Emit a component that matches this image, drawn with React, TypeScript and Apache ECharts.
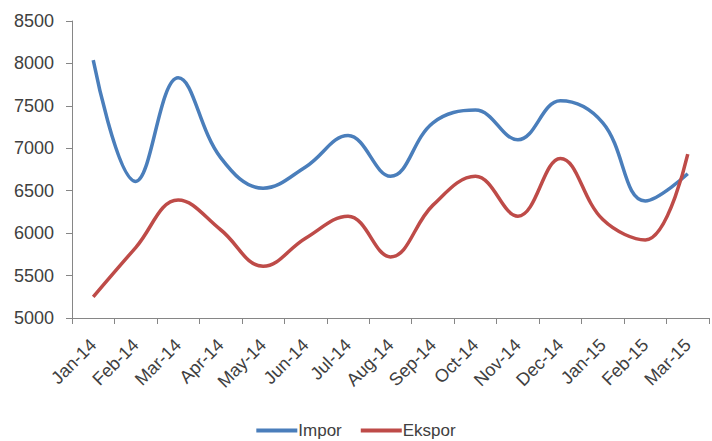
import React, { useEffect, useRef } from "react";
import * as echarts from "echarts";

const categories = ["Jan-14", "Feb-14", "Mar-14", "Apr-14", "May-14", "Jun-14", "Jul-14", "Aug-14", "Sep-14", "Oct-14", "Nov-14", "Dec-14", "Jan-15", "Feb-15", "Mar-15"];
const impor = [8040, 6610, 7830, 6890, 6530, 6780, 7150, 6670, 7300, 7450, 7100, 7560, 7300, 6380, 6700];
const ekspor = [5250, 5830, 6390, 6040, 5610, 5940, 6200, 5720, 6330, 6670, 6200, 6880, 6160, 5920, 6930];

const textColor = "#404040";
const axisColor = "#868686";
const font = "'Liberation Sans', Arial, sans-serif";

export default function App() {
  const ref = useRef<HTMLDivElement>(null);
  useEffect(() => {
    if (!ref.current) return;
    const chart = echarts.init(ref.current, null, { renderer: "svg" });
    chart.setOption({
      animation: false,
      backgroundColor: "#ffffff",
      grid: { left: 72, right: 3, top: 21, bottom: 123, containLabel: false },
      legend: {
        top: 422,
        padding: 0,
        left: "center",
        itemWidth: 41,
        itemHeight: 4,
        itemGap: 19,
        icon: "rect",
        textStyle: { color: textColor, fontSize: 17, fontFamily: font, padding: [0, 0, 0, -4] },
        data: ["Impor", "Ekspor"],
      },
      xAxis: {
        type: "category",
        data: categories,
        boundaryGap: true,
        axisLine: { lineStyle: { color: axisColor, width: 1 } },
        axisTick: { show: true, length: 6, lineStyle: { color: axisColor } },
        axisLabel: { rotate: 45, margin: 24, color: textColor, fontSize: 18, fontFamily: font, interval: 0 },
        splitLine: { show: false },
      },
      yAxis: {
        type: "value",
        min: 5000,
        max: 8500,
        interval: 500,
        axisLine: { show: true, lineStyle: { color: axisColor, width: 1 } },
        axisTick: { show: true, length: 6, lineStyle: { color: axisColor } },
        axisLabel: { margin: 18, color: textColor, fontSize: 18, fontFamily: font, formatter: (v: number) => String(v) },
        splitLine: { show: false },
      },
      series: [
        {
          name: "Impor",
          type: "line",
          data: impor,
          smooth: 0.4,
          showSymbol: false,
          symbol: "none",
          lineStyle: { color: "#4A7EBB", width: 3.5 },
          itemStyle: { color: "#4A7EBB" },
        },
        {
          name: "Ekspor",
          type: "line",
          data: ekspor,
          smooth: 0.4,
          showSymbol: false,
          symbol: "none",
          lineStyle: { color: "#BE4B48", width: 3.5 },
          itemStyle: { color: "#BE4B48" },
        },
      ],
    });
    return () => chart.dispose();
  }, []);
  return <div ref={ref} style={{ width: 712, height: 441, position: "absolute", left: 0, top: 0 }} />;
}
